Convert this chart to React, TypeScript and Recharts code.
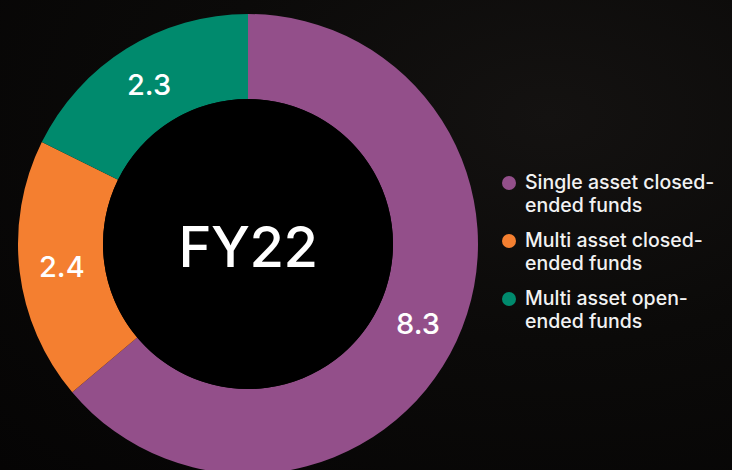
import { PieChart, Pie, Cell, Legend } from 'recharts';

const categories = ['Single asset closed-ended funds', 'Multi asset closed-ended funds', 'Multi asset open-ended funds'];
const values = [8.3, 2.4, 2.3];
const colors = ['#934f8a', '#f47f30', '#008a6d'];
const centerLabel = 'FY22';

const data = categories.map((name, i) => ({ name, value: values[i] }));
const hole = [{ name: 'hole', value: 1 }];

const RADIAN = Math.PI / 180;
const font = 'Inter, "Noto Sans", sans-serif';

const renderLabel = (props: any) => {
    const { cx, cy, midAngle, innerRadius, outerRadius, value } = props;
    const r = innerRadius + (outerRadius - innerRadius) / 2;
    const x = cx + r * Math.cos(-midAngle * RADIAN);
    const y = cy + r * Math.sin(-midAngle * RADIAN);
    return (
        <text x={x} y={y} fill="#fff" textAnchor="middle" dominantBaseline="central"
            fontFamily={font} fontSize={29} fontWeight={500}>
            {value.toFixed(1)}
        </text>
    );
};

// center text drawn from the hole slice's own centre
const renderCenter = (props: any) => (
    <text x={props.cx} y={props.cy + 3} fill="#fff" textAnchor="middle" dominantBaseline="central"
        fontFamily={font} fontSize={56} fontWeight={500} letterSpacing={-0.5}>
        {centerLabel}
    </text>
);

const renderLegend = () => (
    <div style={{ fontFamily: font, color: '#f2f2f2', fontSize: 19.5, fontWeight: 500 }}>
        {categories.map((c, i) => (
            <div key={c} style={{ display: 'flex', alignItems: 'flex-start', marginBottom: 12 }}>
                <span style={{
                    width: 14, height: 14, borderRadius: '50%', background: colors[i],
                    marginTop: 5, marginRight: 9, flexShrink: 0,
                }} />
                <span style={{ width: 205, lineHeight: '23px' }}>{c}</span>
            </div>
        ))}
    </div>
);

export default function App() {
    return (
        <div style={{
            position: 'absolute', left: 0, top: 0, width: 732, height: 470, overflow: 'hidden',
            background: 'radial-gradient(ellipse at 75% 25%, #141211 0%, #0b0a09 45%, #050404 100%)',
        }}>
            <PieChart width={732} height={470} margin={{ top: 0, right: 0, bottom: 0, left: 0 }}>
                <Pie
                    data={data}
                    dataKey="value"
                    cx={248}
                    cy={244}
                    innerRadius={145}
                    outerRadius={230}
                    startAngle={90}
                    endAngle={-270}
                    stroke="none"
                    label={renderLabel}
                    labelLine={false}
                    isAnimationActive={false}
                >
                    {data.map((d, i) => <Cell key={d.name} fill={colors[i]} />)}
                </Pie>
                <Pie
                    data={hole}
                    dataKey="value"
                    cx={248}
                    cy={244}
                    innerRadius={0}
                    outerRadius={145}
                    stroke="none"
                    fill="#000"
                    legendType="none"
                    label={renderCenter}
                    labelLine={false}
                    isAnimationActive={false}
                />
                <Legend
                    layout="vertical"
                    content={renderLegend}
                    wrapperStyle={{ left: 502, top: 171, width: 230 }}
                />
            </PieChart>
        </div>
    );
}
